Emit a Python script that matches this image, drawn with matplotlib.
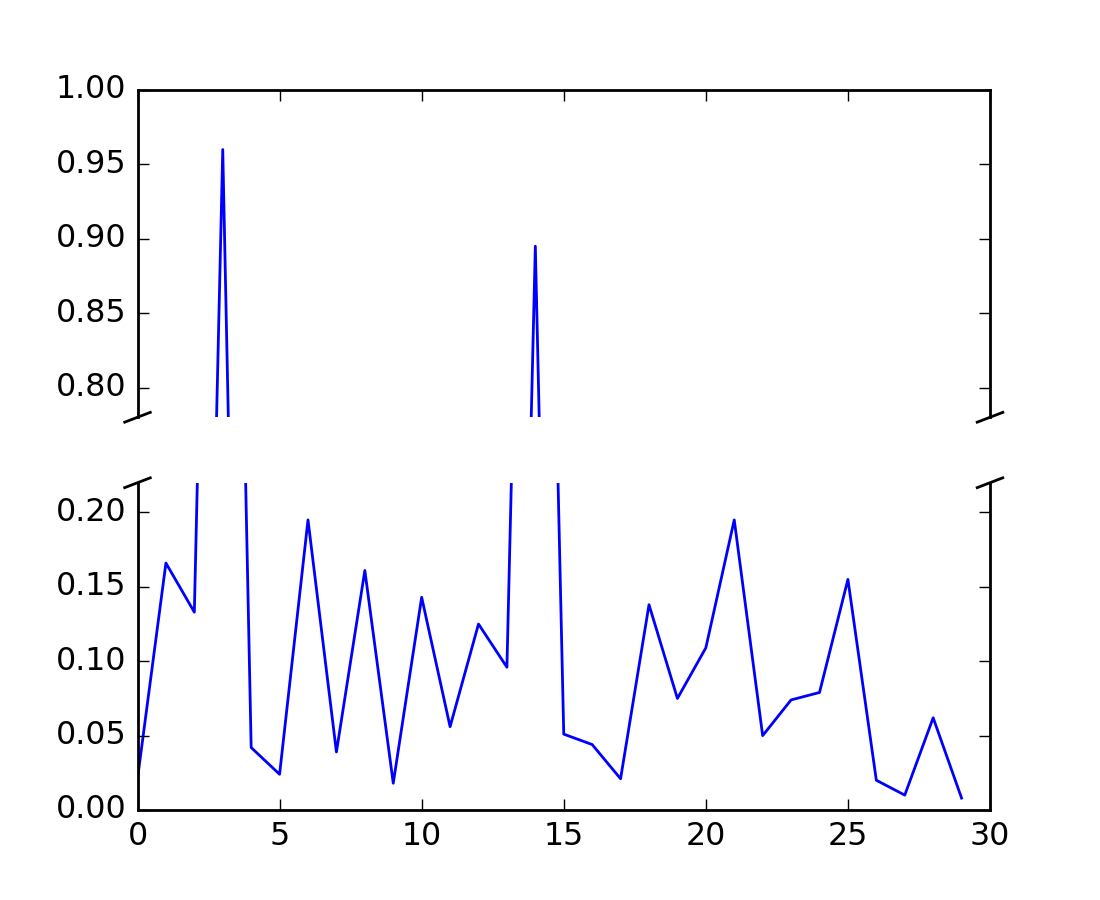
import matplotlib
matplotlib.use("Agg")
import matplotlib.pyplot as plt

plt.style.use('classic')
plt.rcParams['font.size'] = 11.4

x = list(range(30))
pts = [0.021, 0.166, 0.133, 0.960, 0.042, 0.024, 0.195, 0.039, 0.161, 0.018,
       0.143, 0.056, 0.125, 0.096, 0.895, 0.051, 0.044, 0.021, 0.138, 0.075,
       0.109, 0.195, 0.050, 0.074, 0.079, 0.155, 0.020, 0.010, 0.062, 0.008]

fig, (ax, ax2) = plt.subplots(2, 1, sharex=True, figsize=(5.5, 4.5))

ax.plot(x, pts)
ax2.plot(x, pts)

ax.set_ylim(.78, 1.)
ax2.set_ylim(0, .22)

ax.spines['bottom'].set_visible(False)
ax2.spines['top'].set_visible(False)
ax.xaxis.tick_top()
ax.tick_params(labeltop=False)
ax2.xaxis.tick_bottom()

d = .015
kwargs = dict(transform=ax.transAxes, color='k', clip_on=False)
ax.plot((-d, +d), (-d, +d), **kwargs)
ax.plot((1 - d, 1 + d), (-d, +d), **kwargs)

kwargs.update(transform=ax2.transAxes)
ax2.plot((-d, +d), (1 - d, 1 + d), **kwargs)
ax2.plot((1 - d, 1 + d), (1 - d, 1 + d), **kwargs)

fig.savefig('out.png', dpi=200)
